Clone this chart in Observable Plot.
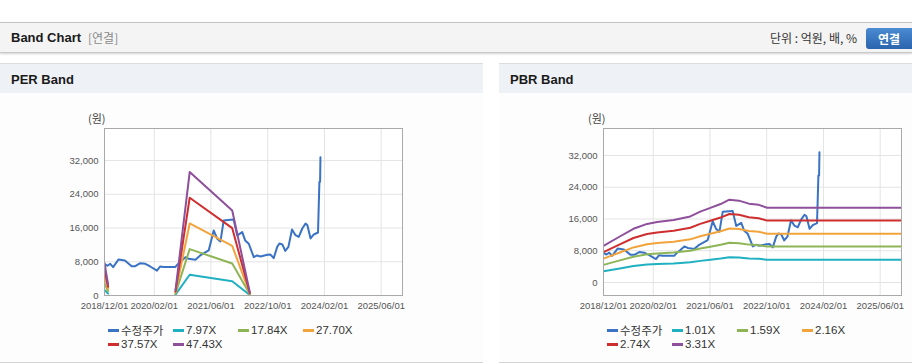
<!DOCTYPE html>
<html><head><meta charset="utf-8">
<script src="https://cdn.jsdelivr.net/npm/d3@7"></script>
<script src="https://cdn.jsdelivr.net/npm/@observablehq/plot@0.6"></script>
<style>
body{margin:0;width:912px;height:364px;position:relative;overflow:hidden;background:#fff;font-family:"Liberation Sans","Noto Sans CJK KR",sans-serif;}
.abs{position:absolute}
#topbar{left:0;top:22px;width:912px;height:29px;background:#f4f4f4;border-top:1px solid #c4c4c4;border-bottom:1px solid #c8c8c8;box-shadow:0 1px 2px rgba(0,0,0,.18)}
.title{font-weight:bold;font-size:13px;color:#1a1a1a;}
.panel{top:63px;height:298px;border-top:1px solid #dcdcdc;border-bottom:1px solid #d4d4d4;background:#fdfdfd}
.phead{left:0;top:0;right:0;height:29px;background:#eef2f6}
.legend{font-size:11.5px;color:#333;white-space:nowrap}
.sw{position:absolute;width:11px;height:3px}
.unit{font-size:11px;color:#444;font-family:"Noto Sans CJK KR",sans-serif}
</style></head>
<body>
<div id="topbar" class="abs"></div>
<div class="abs title" style="left:11px;top:30px">Band Chart</div>
<div class="abs" style="left:88px;top:31px;font-size:12px;color:#8a8a8a;font-family:'Noto Sans CJK KR',sans-serif;line-height:14px">[연결]</div>
<div class="abs" style="left:770px;top:31px;font-size:12px;color:#333;font-family:'Noto Sans CJK KR',sans-serif;line-height:14px">단위 : 억원, 배, %</div>
<div class="abs" style="left:866px;top:28px;width:46px;height:21px;border-radius:3px 0 0 3px;background:linear-gradient(#4a8bd3,#2a64ad);color:#fff;font-weight:bold;font-size:12px;line-height:21px;text-align:center;font-family:'Noto Sans CJK KR',sans-serif">연결</div>

<div id="pl" class="abs panel" style="left:0;width:483px"><div class="abs phead"></div><div class="abs title" style="left:11px;top:8px">PER Band</div></div>
<div id="pr" class="abs panel" style="left:499px;width:413px"><div class="abs phead"></div><div class="abs title" style="left:11px;top:8px">PBR Band</div></div>

<div class="abs unit" style="left:88px;top:110px">(원)</div>
<div class="abs unit" style="left:588px;top:110px">(원)</div>

<div id="leftChart" class="abs" style="left:0;top:93px"></div>
<div id="rightChart" class="abs" style="left:500px;top:93px"></div>
<div id="legL"></div><div id="legR"></div>

<script>
// ---- data ----
const priceDates = ["2018-12-07","2018-12-27","2019-01-19","2019-02-13","2019-04-01","2019-05-25","2019-07-22","2019-08-22","2019-10-04","2019-11-16","2019-12-28","2020-02-24","2020-03-22","2020-04-22","2020-06-16","2020-08-01","2020-08-10","2020-10-25","2020-11-22","2021-01-19","2021-03-01","2021-05-13","2021-06-25","2021-07-25","2021-08-22","2021-09-19","2021-11-16","2021-12-13","2022-01-13","2022-02-25","2022-03-22","2022-04-22","2022-06-04","2022-07-01","2022-08-01","2022-09-28","2022-10-25","2022-11-22","2022-12-22","2023-01-10","2023-02-04","2023-03-01","2023-03-28","2023-04-28","2023-05-28","2023-06-25","2023-07-25","2023-08-22","2023-09-07","2023-10-04","2023-11-01","2023-12-07","2023-12-13","2023-12-19","2023-12-25","2023-12-28"];
const priceVals = [7360,7050,7520,6720,8550,8310,6960,6960,7670,7520,6880,5900,6880,6760,6760,6760,7120,9090,8700,8470,9500,10680,15430,13460,12820,17800,17970,18040,14240,15030,13060,12270,9090,9500,9260,9660,9700,8860,11540,12330,12100,10590,11540,15650,14310,13910,15890,17080,16680,13520,14470,14940,20870,26960,26960,32800];

const perDates = ["2018-12-01","2019-01-01","2019-06-01","2020-08-01","2020-12-01","2021-12-01","2022-05-01"];
const per797  = [1291, 438, null, 199, 4917, 3387, 120];
const per1784 = [2890, 981, null, 446, 11007, 7582, 268];
const per2770 = [4487, 1524, null, 693, 17091, 11773, 416];
const per3757 = [6086, 2066, null, 939, 23181, 15967, 564];
const per4743 = [7684, 2609, null, 1186, 29264, 20158, 711];

const pbrDates = ["2018-12-01","2019-04-20","2019-08-15","2019-12-10","2020-03-05","2020-07-25","2020-12-15","2021-03-10","2021-06-05","2021-09-01","2021-11-15","2022-02-05","2022-05-01","2022-07-25","2022-10-05","2025-12-01"];
const pbr101 = [2814,3535,4131,4505,4646,4798,5080,5444,5737,6030,6363,6292,6060,5969,5747,5747];
const pbr159 = [4430,5565,6503,7091,7314,7553,7998,8570,9031,9492,10017,9906,9540,9397,9047,9047];
const pbr216 = [6018,7560,8834,9634,9936,10260,10865,11642,12269,12895,13608,13457,12960,12766,12290,12290];
const pbr274 = [7634,9590,11207,12220,12604,13015,13782,14769,15563,16358,17262,17070,16440,16193,15591,15591];
const pbr331 = [9222,11585,13538,14763,15226,15723,16649,17841,18801,19761,20853,20621,19860,19562,18834,18834];

const perLabels = ["수정주가","7.97X","17.84X","27.70X","37.57X","47.43X"];
const pbrLabels = ["수정주가","1.01X","1.59X","2.16X","2.74X","3.31X"];
const colors = ["#3a72c4","#1fb0c2","#8db556","#f2a43c","#cf2e2e","#8e4f9b"];
const xTickDates = ["2018-12-01","2020-02-01","2021-06-01","2022-10-01","2024-02-01","2025-06-01"];
const yTicks = [0,8000,16000,24000,32000];

// ---- drawing ----
const toRows = (dates, vals) => dates.map((d,i) => ({date: new Date(d + "T00:00:00Z"), value: vals[i]}));
const xTicks = xTickDates.map(d => new Date(d + "T00:00:00Z"));
const xDomain = [new Date("2018-12-01T00:00:00Z"), new Date("2025-12-01T00:00:00Z")];

function chart(width, marginLeft, marginRight, yDomain, seriesList) {
  return Plot.plot({
    width, height: 230, marginLeft, marginRight, marginTop: 35, marginBottom: 28,
    style: {background: "transparent", fontFamily: "Liberation Sans, Arial, sans-serif", fontSize: "9.5px", color: "#555", overflow: "visible"},
    x: {type: "utc", domain: xDomain, ticks: xTicks, tickFormat: d3.utcFormat("%Y/%m/%d"), tickSize: 0, tickPadding: 7, label: null},
    y: {domain: yDomain, ticks: yTicks, tickFormat: d3.format(","), tickSize: 0, tickPadding: 6, label: null},
    marks: [
      Plot.frame({fill: "#fff", stroke: null}),
      Plot.gridX(xTicks, {stroke: "#e4e4e4", strokeOpacity: 1}),
      Plot.gridY(yTicks, {stroke: "#e4e4e4", strokeOpacity: 1}),
      ...seriesList.map((s, i) => Plot.line(s, {x: "date", y: "value", stroke: colors[i], strokeWidth: 2, clip: true})),
      Plot.frame({stroke: "#a9a9a9"})
    ]
  });
}

const perSeries = [toRows(priceDates, priceVals), toRows(perDates, per797), toRows(perDates, per1784), toRows(perDates, per2770), toRows(perDates, per3757), toRows(perDates, per4743)];
const pbrSeries = [toRows(priceDates, priceVals), toRows(pbrDates, pbr101), toRows(pbrDates, pbr159), toRows(pbrDates, pbr216), toRows(pbrDates, pbr274), toRows(pbrDates, pbr331)];

document.getElementById("leftChart").append(chart(483, 104, 81, [0, 39600], perSeries));
document.getElementById("rightChart").append(chart(412, 103, 11, [-3280, 38800], pbrSeries));

function legend(el, labels, x0) {
  labels.forEach((t, i) => {
    const row = i < 4 ? 0 : 1, col = i < 4 ? i : i - 4;
    const x = x0 + col * 65, y = row === 0 ? 330 : 344;
    const sw = document.createElement("div");
    sw.className = "abs sw"; sw.style.left = x + "px"; sw.style.top = (y - 1) + "px"; sw.style.background = colors[i];
    const tx = document.createElement("div");
    tx.className = "abs legend"; tx.style.left = (x + 13) + "px"; tx.style.top = (y - 7) + "px"; tx.style.lineHeight = "14px";
    if (i === 0) tx.style.fontFamily = "'Noto Sans CJK KR',sans-serif";
    tx.textContent = t;
    el.append(sw, tx);
  });
}
legend(document.getElementById("legL"), perLabels, 108);
legend(document.getElementById("legR"), pbrLabels, 607);
</script>
</body></html>
